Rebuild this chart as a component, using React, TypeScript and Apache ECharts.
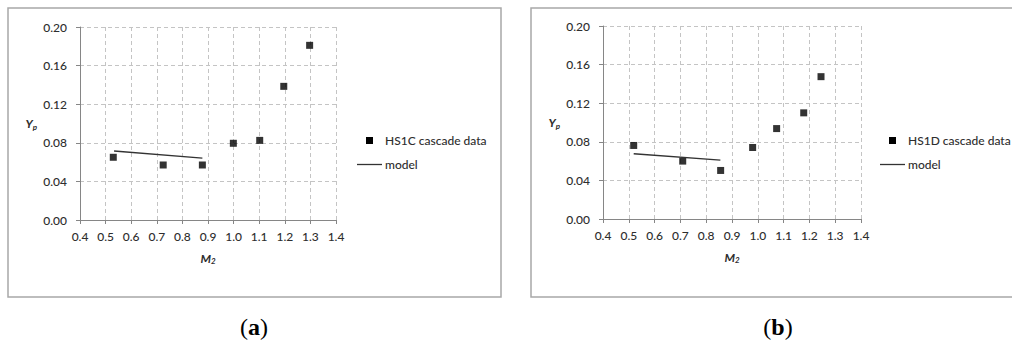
import React, { useEffect, useRef } from "react";
import * as echarts from "echarts";

// Panel (a): HS1C cascade
const hs1cM2 = [0.53, 0.725, 0.878, 0.999, 1.102, 1.196, 1.297];
const hs1cYp = [0.065, 0.057, 0.057, 0.0795, 0.0825, 0.1385, 0.181];
const modelAM2 = [0.533, 0.878];
const modelAYp = [0.0715, 0.0642];

// Panel (b): HS1D cascade
const hs1dM2 = [0.519, 0.709, 0.856, 0.98, 1.073, 1.178, 1.245];
const hs1dYp = [0.0762, 0.06, 0.0503, 0.0741, 0.0937, 0.11, 0.1475];
const modelBM2 = [0.519, 0.855];
const modelBYp = [0.0676, 0.061];

const seriesNames = ["HS1C cascade data", "HS1D cascade data", "model"];
const panelLetters = ["a", "b"];
const xName = { main: "M", sub: "2" };
const yName = { main: "Y", sub: "p" };

const FONT = "Lato, 'Open Sans', sans-serif";
const TXT = "#2e2e2e";
const GRIDC = "#c4c4c4";

const zip = (xs: number[], ys: number[]) => xs.map((x, i) => [x, ys[i]]);

function axisPair(gridIndex: number) {
  const nameRich = {
    i: { fontFamily: FONT, fontSize: 12, fontWeight: "bold", fontStyle: "italic", color: TXT, lineHeight: 16 },
    s: { fontFamily: FONT, fontSize: 8, fontWeight: "bold", fontStyle: "italic", color: TXT, lineHeight: 16, padding: [6, 0, 0, 0] },
  };
  const x = {
    type: "value",
    gridIndex,
    min: 0.4,
    max: 1.4,
    interval: 0.1,
    name: `{i|${xName.main}}{s|${xName.sub}}`,
    nameLocation: "middle",
    nameGap: 30,
    nameTextStyle: { rich: nameRich },
    axisLine: { show: true, onZero: false, lineStyle: { color: "#868686", width: 1 } },
    axisTick: { show: true, length: 4, lineStyle: { color: "#868686" } },
    axisLabel: { fontFamily: FONT, fontSize: 12, fontWeight: 500, color: TXT, margin: 10, formatter: (v: number) => v.toFixed(1) },
    splitLine: { show: true, lineStyle: { color: GRIDC, type: [4, 3], width: 1 } },
  };
  const y = {
    type: "value",
    gridIndex,
    min: 0,
    max: 0.2,
    interval: 0.04,
    name: `{i|${yName.main}}{s|${yName.sub}}`,
    nameLocation: "middle",
    nameRotate: 0,
    nameGap: 43,
    nameTextStyle: { rich: nameRich, align: "right" },
    axisLine: { show: true, lineStyle: { color: "#868686", width: 1 } },
    axisTick: { show: true, length: 4, lineStyle: { color: "#868686" } },
    axisLabel: { fontFamily: FONT, fontSize: 12, fontWeight: 500, color: TXT, margin: 13, formatter: (v: number) => v.toFixed(2) },
    splitLine: { show: true, lineStyle: { color: GRIDC, type: [4, 3], width: 1 } },
  };
  return { x, y };
}

function legendGraphic(x0: number, label: string) {
  return [
    { type: "rect", shape: { x: x0 + 9, y: 137, width: 7, height: 7 }, style: { fill: "#000" } },
    { type: "text", style: { x: x0 + 28, y: 140.5, text: label, fontFamily: FONT, fontSize: 12, fontWeight: 500, fill: TXT, verticalAlign: "middle" } },
    { type: "line", shape: { x1: x0, y1: 164.5, x2: x0 + 25, y2: 164.5 }, style: { stroke: "#333", lineWidth: 1.3 } },
    { type: "text", style: { x: x0 + 28, y: 164.5, text: seriesNames[2], fontFamily: FONT, fontSize: 12, fontWeight: 500, fill: TXT, verticalAlign: "middle" } },
  ];
}

function panelLabel(cx: number, letter: string) {
  return {
    type: "text",
    style: {
      x: cx,
      y: 327,
      text: `{p|(}{b|${letter}}{p|)}`,
      align: "center",
      verticalAlign: "middle",
      rich: {
        p: { fontFamily: "'Liberation Serif', serif", fontSize: 24, color: "#000" },
        b: { fontFamily: "'Liberation Serif', serif", fontSize: 24, fontWeight: "bold", color: "#000" },
      },
    },
  };
}

export default function App() {
  const ref = useRef<HTMLDivElement>(null);
  useEffect(() => {
    if (!ref.current) return;
    const chart = echarts.init(ref.current, undefined, { renderer: "svg" });
    const a = axisPair(0);
    const b = axisPair(1);
    chart.setOption({
      animation: false,
      backgroundColor: "#fff",
      grid: [
        { left: 80, top: 27, width: 256, height: 193 },
        { left: 603, top: 26, width: 258, height: 193 },
      ],
      xAxis: [a.x, b.x],
      yAxis: [a.y, b.y],
      series: [
        {
          type: "scatter",
          name: seriesNames[0],
          xAxisIndex: 0,
          yAxisIndex: 0,
          symbol: "rect",
          symbolSize: 7,
          itemStyle: { color: "#000" },
          data: zip(hs1cM2, hs1cYp),
        },
        {
          type: "line",
          name: seriesNames[2],
          xAxisIndex: 0,
          yAxisIndex: 0,
          showSymbol: false,
          lineStyle: { color: "#333", width: 1.3 },
          data: zip(modelAM2, modelAYp),
        },
        {
          type: "scatter",
          name: seriesNames[1],
          xAxisIndex: 1,
          yAxisIndex: 1,
          symbol: "rect",
          symbolSize: 7,
          itemStyle: { color: "#000" },
          data: zip(hs1dM2, hs1dYp),
        },
        {
          type: "line",
          name: seriesNames[2],
          xAxisIndex: 1,
          yAxisIndex: 1,
          showSymbol: false,
          lineStyle: { color: "#333", width: 1.3 },
          data: zip(modelBM2, modelBYp),
        },
      ],
      graphic: [
        { type: "rect", z: -1, shape: { x: 8, y: 8, width: 493, height: 289 }, style: { fill: "none", stroke: "#a8a8a8", lineWidth: 1.5 } },
        { type: "rect", z: -1, shape: { x: 531, y: 8, width: 490, height: 289 }, style: { fill: "none", stroke: "#a8a8a8", lineWidth: 1.5 } },
        ...legendGraphic(357, seriesNames[0]),
        ...legendGraphic(880, seriesNames[1]),
        panelLabel(254, panelLetters[0]),
        panelLabel(778, panelLetters[1]),
      ],
    });
    return () => chart.dispose();
  }, []);
  return <div ref={ref} style={{ position: "fixed", left: 0, top: 0, width: 1012, height: 345 }} />;
}
